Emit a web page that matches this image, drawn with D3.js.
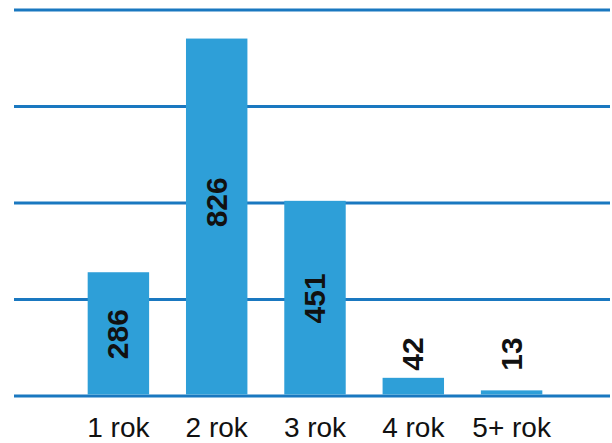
<!DOCTYPE html>
<html><head><meta charset="utf-8">
<script src="https://cdn.jsdelivr.net/npm/d3@7"></script>
<style>body{margin:0;background:#fff}svg{display:block}</style>
</head><body>
<svg id="c" width="612" height="443"></svg>
<script>
const categories = ["1 rok", "2 rok", "3 rok", "4 rok", "5+ rok"];
const values = [286, 826, 451, 42, 13];
const gridValues = [0, 223, 446, 669, 892];

const svg = d3.select("#c");
const x = d3.scaleBand().domain(categories).range([69, 561]).paddingInner(0.375).paddingOuter(0.19);
const y = d3.scaleLinear().domain([0, 892]).range([396, 10]);

svg.append("g").selectAll("line").data(gridValues).join("line")
  .attr("x1", 14).attr("x2", 610)
  .attr("y1", d => y(d)).attr("y2", d => y(d))
  .attr("stroke", "#1a78c0").attr("stroke-width", 3);

svg.append("g").selectAll("rect").data(values).join("rect")
  .attr("x", (d, i) => x(categories[i]))
  .attr("width", x.bandwidth())
  .attr("y", d => y(d))
  .attr("height", d => y(0) - y(d) - 1.5)
  .attr("fill", "#2e9fd8");

svg.append("g").selectAll("text").data(values).join("text")
  .attr("transform", (d, i) => {
    const cx = x(categories[i]) + x.bandwidth() / 2 + 10;
    const inside = (y(0) - y(d)) > 80;
    const cy = inside ? (y(d) + y(0)) / 2 - (d > 700 ? 15 : 0) : y(0) - 42;
    return `translate(${cx},${cy}) rotate(-90)`;
  })
  .attr("text-anchor", "middle")
  .attr("font-family", "Liberation Sans, Arial, sans-serif")
  .attr("font-weight", "bold")
  .attr("font-size", 30)
  .attr("fill", "#111")
  .text(d => d);

const xAxis = d3.axisBottom(x).tickSize(0).tickPadding(0);
const g = svg.append("g").attr("transform", `translate(0,${y(0)})`).call(xAxis);
g.select(".domain").remove();
g.selectAll("text")
  .attr("dy", null).attr("y", 41)
  .attr("font-family", "Liberation Sans, Arial, sans-serif")
  .attr("font-size", 28).attr("fill", "#111");
</script>
</body></html>
